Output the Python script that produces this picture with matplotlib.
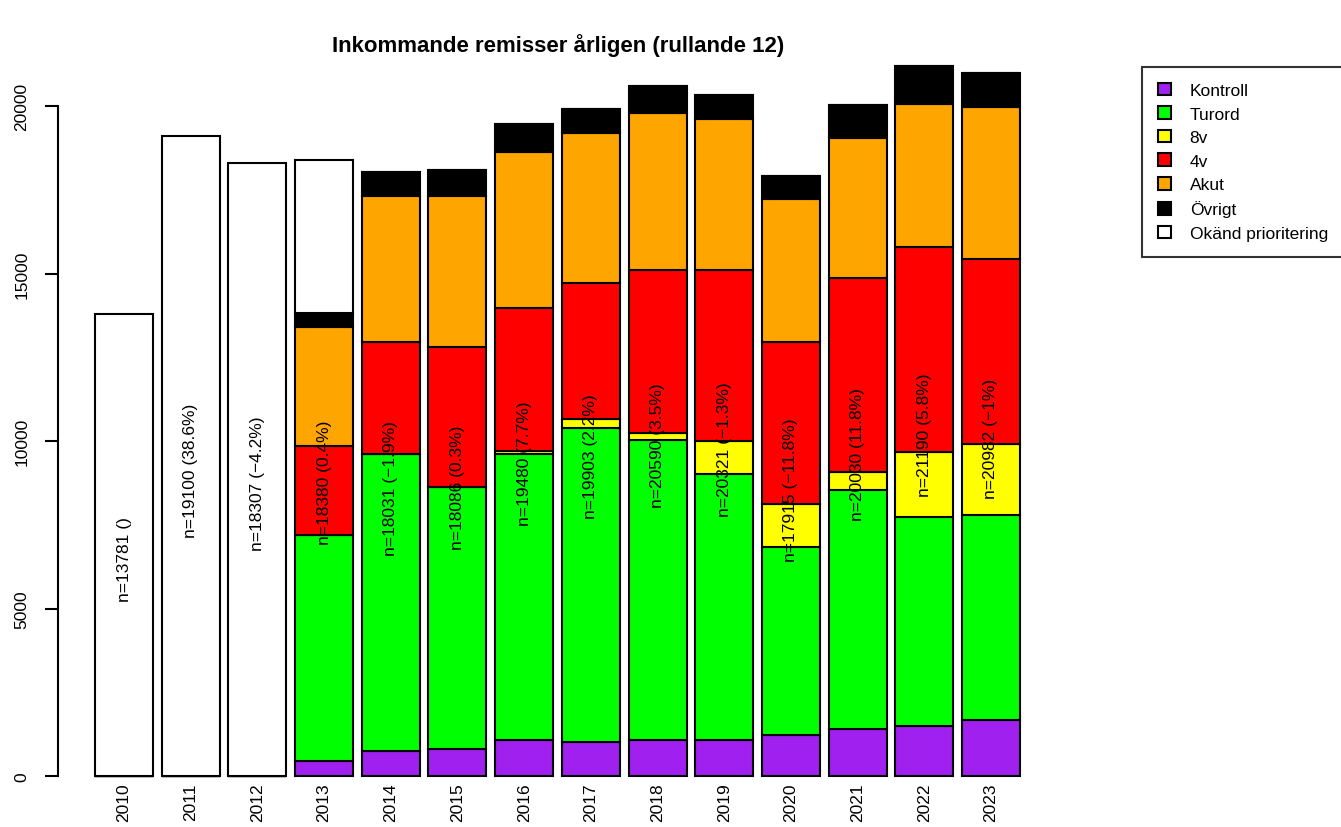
import matplotlib.pyplot as plt
import numpy as np

plt.rcParams['font.family'] = ['Liberation Sans', 'DejaVu Sans']

years = ['2010', '2011', '2012', '2013', '2014', '2015', '2016',
         '2017', '2018', '2019', '2020', '2021', '2022', '2023']

kontroll = [0, 0, 0, 450, 750, 820, 1060, 1000, 1060, 1070, 1230, 1400, 1500, 1670]
turord   = [0, 0, 0, 6760, 8850, 7800, 8540, 9400, 8960, 7960, 5600, 7150, 6220, 6110]
v8       = [0, 0, 0, 0, 0, 0, 100, 270, 230, 985, 1290, 540, 1940, 2145]
v4       = [0, 0, 0, 2630, 3370, 4200, 4280, 4055, 4860, 5095, 4850, 5780, 6140, 5515]
akut     = [0, 0, 0, 3570, 4350, 4500, 4650, 4470, 4680, 4500, 4260, 4175, 4260, 4530]
ovrigt   = [0, 0, 0, 420, 710, 766, 850, 708, 800, 711, 685, 985, 1130, 1012]
okand    = [13781, 19100, 18307, 4550, 0, 0, 0, 0, 0, 0, 0, 0, 0, 0]

bar_labels = ['n=13781 ()', 'n=19100 (38.6%)', 'n=18307 (\u22124.2%)', 'n=18380 (0.4%)',
              'n=18031 (\u22121.9%)', 'n=18086 (0.3%)', 'n=19480 (7.7%)', 'n=19903 (2.2%)',
              'n=20590 (3.5%)', 'n=20321 (\u22121.3%)', 'n=17915 (\u221211.8%)',
              'n=20030 (11.8%)', 'n=21190 (5.8%)', 'n=20982 (\u22121%)']

series = [kontroll, turord, v8, v4, akut, ovrigt, okand]
names = ['Kontroll', 'Turord', '8v', '4v', 'Akut', '\u00d6vrigt', 'Ok\u00e4nd prioritering']
colors = ['#A020F0', '#00FF00', '#FFFF00', '#FF0000', '#FFA500', '#000000', '#FFFFFF']

fig = plt.figure(figsize=(13.41, 8.28), dpi=100)
ax = fig.add_axes([58/1341, 1 - 785/828, (1057 - 58)/1341, (785 - 39)/828])

x = np.arange(len(years))
bottom = np.zeros(len(years))
handles = []
for vals, c, lab in zip(series, colors, names):
    vals = np.array(vals, dtype=float)
    h = ax.bar(x, vals, 0.87, bottom=bottom, color=c, edgecolor='black', linewidth=1.5, label=lab)
    bottom += vals
    handles.append(h)

# count labels, a bit below the middle of each bar
for xi, tot, lab in zip(x, bottom, bar_labels):
    ax.text(xi, tot / 2 - 400, lab, rotation=90, ha='center', va='center', fontsize=12.5)

ax.set_xlim(-0.99, 13.99)
ax.set_ylim(-240, 22037)
ax.set_xticks(x)
ax.set_xticklabels(years, rotation=90, fontsize=12.5)
ax.tick_params(axis='x', length=0, pad=-1)
ax.set_yticks([0, 5000, 10000, 15000, 20000])
ax.set_yticklabels(['0', '5000', '10000', '15000', '20000'], rotation=90, va='center', fontsize=12.5)
ax.tick_params(axis='y', length=9.5, width=1.5, pad=11)
for s in ['top', 'right', 'bottom']:
    ax.spines[s].set_visible(False)
ax.spines['left'].set_bounds(0, 20000)
ax.spines['left'].set_linewidth(1.5)

fig.text(558/1341, 1 - 46/828, 'Inkommande remisser \u00e5rligen (rullande 12)',
         ha='center', va='center', fontsize=16, fontweight='bold')

leg = fig.legend(handles, names, loc='upper left', bbox_to_anchor=(1142/1341, 1 - 68/828),
                 fontsize=12.5, frameon=True, fancybox=False, edgecolor='black',
                 handlelength=0.75, handleheight=0.75, labelspacing=0.47, borderpad=0.9,
                 handletextpad=1.1, borderaxespad=0)
leg.get_frame().set_linewidth(1.5)

fig.savefig('out.png', dpi=100)
